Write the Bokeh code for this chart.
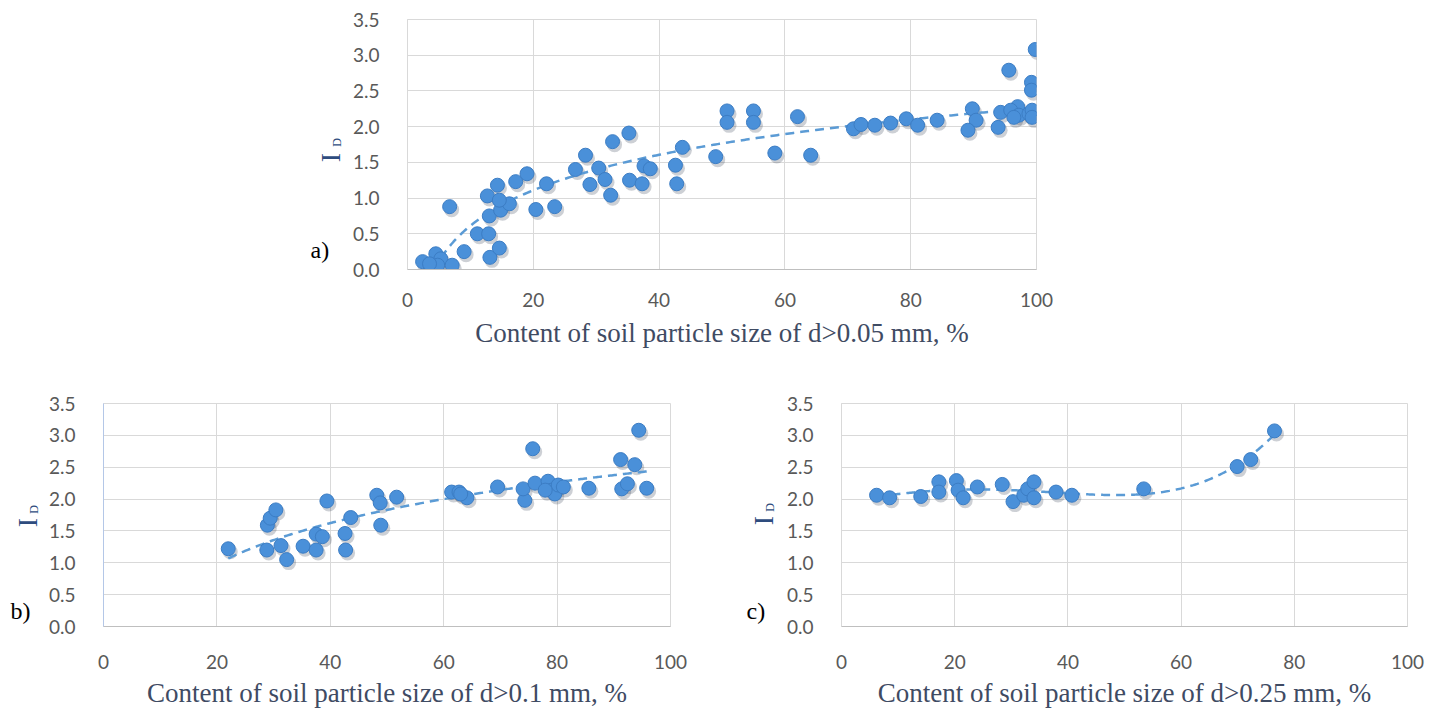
import numpy as np
from bokeh.plotting import figure
from bokeh.models import Spacer, NumeralTickFormatter, FixedTicker, Range1d, ColumnDataSource
from bokeh.core.properties import value
from bokeh.transform import dodge
from bokeh.layouts import column, row
from bokeh.embed import file_html
from bokeh.resources import INLINE

# ---- data ----
a_x = [2.4, 4.5, 5.3, 4.8, 7.1, 6.7, 9.0, 11.1, 12.9, 13.1, 14.6, 13.0, 12.7, 14.3, 14.8,
       16.2, 14.6, 17.2, 19.0, 20.4, 22.1, 23.4, 26.7, 28.3, 29.0, 30.4, 31.4, 32.3, 32.6,
       35.2, 35.3, 37.3, 37.6, 38.6, 42.6, 42.8, 43.7, 49.0, 50.8, 50.8, 55.0, 55.0, 58.4,
       62.0, 64.1, 70.9, 72.1, 74.3, 76.8, 79.3, 81.1, 84.2, 89.8, 90.4, 89.1, 93.9, 94.3,
       95.6, 97.0, 95.9, 97.2, 98.8, 99.3, 96.4, 99.2, 99.2, 99.8, 99.3, 3.5]
a_y = [0.11, 0.22, 0.15, 0.06, 0.06, 0.88, 0.25, 0.50, 0.50, 0.17, 0.30, 0.75, 1.03, 1.18, 0.83,
       0.92, 0.97, 1.23, 1.34, 0.84, 1.20, 0.88, 1.40, 1.60, 1.19, 1.42, 1.26, 1.04, 1.79,
       1.91, 1.25, 1.20, 1.45, 1.41, 1.46, 1.20, 1.71, 1.58, 2.22, 2.06, 2.22, 2.06, 1.63,
       2.14, 1.60, 1.97, 2.03, 2.02, 2.05, 2.11, 2.02, 2.09, 2.25, 2.09, 1.95, 1.99, 2.20,
       2.79, 2.28, 2.23, 2.16, 2.18, 2.23, 2.13, 2.62, 2.51, 3.08, 2.13, 0.08]

b_x = [22.0, 28.9, 29.4, 30.4, 28.8, 31.3, 32.3, 35.2, 37.5, 37.5, 38.6, 39.4, 42.6, 42.7,
       43.6, 48.2, 48.8, 48.9, 51.7, 61.4, 62.7, 64.1, 63.0, 69.5, 75.7, 74.3, 74.0, 76.1,
       78.4, 79.0, 79.6, 80.2, 81.1, 77.9, 85.6, 91.2, 93.7, 94.4, 91.4, 92.4, 95.8]
b_y = [1.22, 1.59, 1.70, 1.83, 1.20, 1.27, 1.05, 1.26, 1.20, 1.45, 1.41, 1.97, 1.46, 1.20,
       1.71, 2.06, 1.94, 1.59, 2.03, 2.11, 2.11, 2.02, 2.08, 2.19, 2.79, 1.98, 2.16, 2.25,
       2.28, 2.14, 2.08, 2.22, 2.19, 2.14, 2.17, 2.62, 2.54, 3.08, 2.16, 2.24, 2.17]

c_x = [6.2, 8.5, 14.0, 17.2, 17.2, 20.3, 20.6, 21.5, 24.0, 28.4, 30.3, 32.2, 32.9, 34.0,
       34.0, 37.9, 40.7, 53.4, 69.9, 72.3, 76.5]
c_y = [2.06, 2.02, 2.04, 2.27, 2.11, 2.29, 2.14, 2.02, 2.19, 2.23, 1.96, 2.06, 2.16, 2.27,
       2.02, 2.11, 2.06, 2.16, 2.51, 2.62, 3.07]

x_ticks = [0, 20, 40, 60, 80, 100]
y_ticks = [0.0, 0.5, 1.0, 1.5, 2.0, 2.5, 3.0, 3.5]

titles = ["Content of soil particle size of d>0.05 mm, %",
          "Content of soil particle size of d>0.1 mm, %",
          "Content of soil particle size of d>0.25 mm, %"]
letters = ["a)", "b)", "c)"]
y_main = "I"
y_sub = "D"

SERIF = "Liberation Serif"
TICKF = "Lato"
BLUE = "#4A90D9"
TREND = "#5B9BD5"
LABEL_BLUE = "#2E4C7E"


def trend(xs, ys, kind):
    xs = np.asarray(xs, float)
    ys = np.asarray(ys, float)
    xx = np.linspace(xs.min(), xs.max(), 300)
    if kind == "log":
        k = np.polyfit(np.log(xs), ys, 1)
        yy = k[0] * np.log(xx) + k[1]
    else:
        k = np.polyfit(xs, ys, 4)
        yy = np.polyval(k, xx)
    return xx, yy


def make(xs, ys, kind, title, fw, fh, bl, br, bt, bb, left_col, tick_stand_x, title_stand):
    p = figure(frame_width=fw, frame_height=fh, min_border_left=bl, min_border_right=br,
               min_border_top=bt, min_border_bottom=bb, output_backend="svg",
               toolbar_location=None, x_range=Range1d(0, 100), y_range=Range1d(0, 3.5))
    p.background_fill_color = "white"
    p.border_fill_color = "white"
    p.outline_line_color = "#D9D9D9"
    p.outline_line_width = 1

    p.xaxis.ticker = FixedTicker(ticks=x_ticks)
    p.yaxis.ticker = FixedTicker(ticks=y_ticks)
    p.yaxis.formatter = NumeralTickFormatter(format="0.0")
    for ax in (p.xaxis, p.yaxis):
        ax.major_tick_line_color = None
        ax.minor_tick_line_color = None
        ax.major_label_text_font = TICKF
        ax.major_label_text_font_size = "19px"
        ax.major_label_text_color = "#595959"
    p.yaxis.axis_line_color = left_col
    p.xaxis.axis_line_color = "#BFBFBF"
    p.yaxis.major_label_standoff = 22
    p.xaxis.major_label_standoff = tick_stand_x
    p.xaxis.axis_label = title
    p.xaxis.axis_label_text_font = SERIF
    p.xaxis.axis_label_text_font_style = "normal"
    p.xaxis.axis_label_text_font_size = "27px"
    p.xaxis.axis_label_text_color = "#3F4B63"
    p.xaxis.axis_label_standoff = title_stand

    p.xgrid.ticker = FixedTicker(ticks=x_ticks)
    p.ygrid.ticker = FixedTicker(ticks=y_ticks)
    p.xgrid.grid_line_color = "#D9D9D9"
    p.ygrid.grid_line_color = "#D9D9D9"

    src = ColumnDataSource(dict(x=xs, y=ys))
    # soft drop shadow under each marker (shifted ~2 px right, ~3 px down)
    sx = 2.0 * 100.0 / fw
    sy = -3.0 * 3.5 / fh
    p.scatter(x=dodge("x", sx), y=dodge("y", sy), source=src, size=15,
              fill_color="#1A2A40", fill_alpha=0.22, line_color=None)

    tx, ty = trend(xs, ys, kind)
    p.line(tx, ty, line_color=TREND, line_width=2.5, line_dash="9 6")
    p.scatter(x="x", y="y", source=src, size=14, fill_color=BLUE,
              line_color="#3C7DC4", line_width=1)
    return p


def side(w, fh, bt, bb, ix, iy, dx, dy, letter, lx, ly):
    """Narrow text panel (same frame rows as its neighbour) holding the
    y-axis name (I with subscript D) and the panel letter.
    Coordinates are pixels from the frame's bottom-left corner."""
    s = figure(frame_width=w, frame_height=fh, x_range=Range1d(0, w), y_range=Range1d(0, fh),
               x_axis_type=None, y_axis_type=None, min_border_left=0, min_border_right=0,
               min_border_top=bt, min_border_bottom=bb,
               output_backend="svg", toolbar_location=None)
    s.outline_line_color = None
    s.background_fill_color = "white"
    s.border_fill_color = "white"
    s.text(x=[ix], y=[iy], text=[y_main], angle=np.pi / 2, text_font=value(SERIF),
           text_font_size="28px", text_color=LABEL_BLUE, text_align="center",
           text_baseline="middle")
    s.text(x=[dx], y=[dy], text=[y_sub], angle=np.pi / 2, text_font=value(SERIF),
           text_font_size="12px", text_color=LABEL_BLUE, text_align="center",
           text_baseline="middle")
    s.text(x=[lx], y=[ly], text=[letter], text_font=value(SERIF),
           text_font_size="24px", text_color="black", text_align="left",
           text_baseline="alphabetic")
    return s


fa = make(a_x, a_y, "log", titles[0], 629, 250, 62, 64, 19, 101, "#D9D9D9", 17, 8)
fb = make(b_x, b_y, "log", titles[1], 567, 223, 57, 61, 33, 87, "#B4C7E7", 22, 6)
fc = make(c_x, c_y, "poly", titles[2], 566, 223, 55, 35, 33, 87, "#D9D9D9", 22, 6)

sa = side(45, 250, 19, 101, 30, 112, 36.5, 127, letters[0], 10, 20)
sb = side(45, 223, 33, 87, 27, 104, 33.5, 117, letters[1], 10, 16)
sc = side(52, 223, 33, 87, 32, 106, 38.5, 119, letters[2], 15, 16)

layout = column(row(Spacer(width=300, height=370), sa, fa), row(sb, fb, sc, fc))

open("out.html", "w").write(file_html(layout, INLINE))
